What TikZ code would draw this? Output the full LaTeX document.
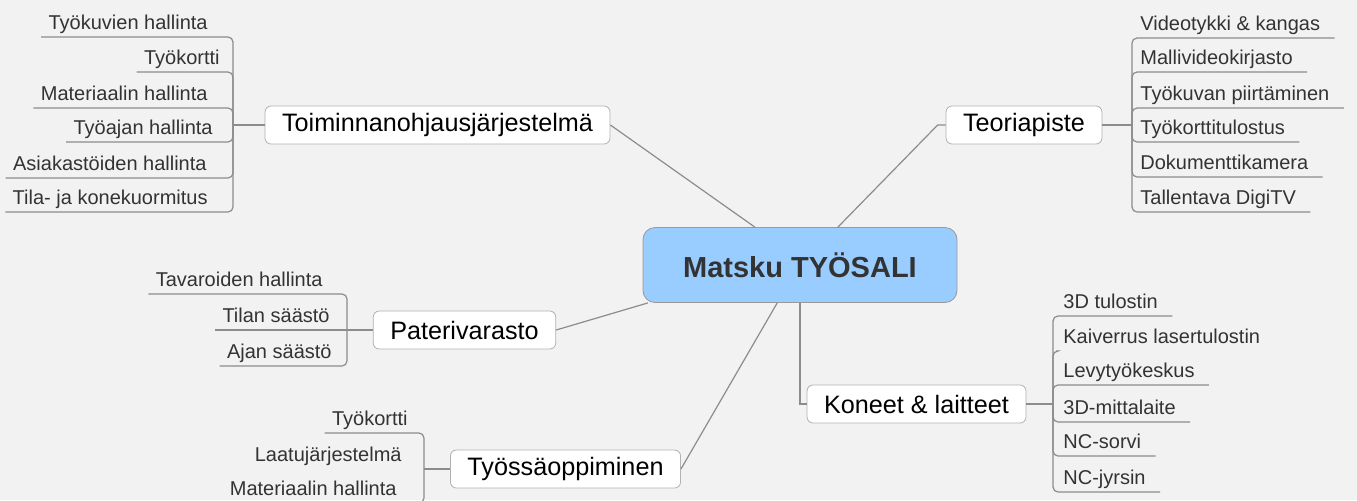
\documentclass[tikz,border=0pt]{standalone}
\usepackage{fontspec}
\setmainfont{Liberation Sans}
\usepackage{xcolor}
\usepackage{tikz}
\usetikzlibrary{positioning}

\definecolor{hubblue}{RGB}{153,204,255}
\definecolor{paper}{RGB}{242,242,242}
\definecolor{linegray}{RGB}{140,140,140}

\begin{document}
\begin{tikzpicture}[
  x=0.5pt, y=-0.5pt,
  hub/.style={
    rectangle,
    rounded corners=6pt,
    draw=gray!80,
    fill=hubblue,
    minimum width=157pt,
    minimum height=37.5pt,
    font=\fontsize{14.5}{17}\selectfont\bfseries,
    text=black!80
  },
  branch/.style={
    rectangle,
    rounded corners=3pt,
    draw=gray!60,
    fill=white,
    inner xsep=8.5pt,
    inner ysep=3pt,
    minimum height=19pt,
    font=\fontsize{12.6}{15}\selectfont
  },
  leaf/.style={
    inner xsep=3.5pt,
    inner ysep=1.5pt,
    text depth=2pt,
    font=\fontsize{10}{12}\selectfont,
    text=black!80
  },
  conn/.style={draw=linegray, line width=0.6pt},
  elbow/.style={conn, rounded corners=2.5pt}
]
\clip (0,0) rectangle (1357,500);
\fill[paper] (0,0) rectangle (1357,500);

% centre and main branches
\node[hub] (hub) at (800,265) {Matsku TYÖSALI};
\node[branch] (toim) at (437.5,125) {Toiminnanohjausjärjestelmä};
\node[branch] (teori) at (1024,125) {Teoriapiste};
\node[branch] (pater) at (464.5,330) {Paterivarasto};
\node[branch] (koneet) at (916.5,404) {Koneet \& laitteet};
\node[branch] (tyossa) at (565.5,469) {Työssäoppiminen};

\draw[conn] (toim.east) -- (hub.140);
\draw[conn] (teori.west) -- ++(-8,0) -- (hub.45);
\draw[conn] (pater.east) -- (hub.194);
\draw[conn] (hub.south) |- (koneet.west);
\draw[conn] (tyossa.east) -- (hub.239);

% Toiminnanohjausjarjestelma
\coordinate (tb) at (233,125);
\node[leaf, anchor=south east] (tk1) at (215,37) {Työkuvien hallinta};
\node[leaf, anchor=south east] (tk2) at (227,72) {Työkortti};
\node[leaf, anchor=south east] (tk3) at (215,108) {Materiaalin hallinta};
\node[leaf, anchor=south east] (tk4) at (220,142) {Työajan hallinta};
\node[leaf, anchor=south east] (tk5) at (214,178) {Asiakastöiden hallinta};
\node[leaf, anchor=south east] (tk6) at (215,212) {Tila- ja konekuormitus};
\draw[elbow] (tk1.south west) -- (tk1.south west -| tb) -- (tb);
\draw[elbow] (tk2.south west) -- (tk2.south west -| tb) -- (tb);
\draw[elbow] (tk3.south west) -- (tk3.south west -| tb) -- (tb);
\draw[elbow] (tk4.south west) -- (tk4.south west -| tb) -- (tb);
\draw[elbow] (tk5.south west) -- (tk5.south west -| tb) -- (tb);
\draw[elbow] (tk6.south west) -- (tk6.south west -| tb) -- (tb);
\draw[conn] (tb) -- (toim.west);

% Teoriapiste
\coordinate (eb) at (1132,125);
\node[leaf, anchor=south west] (t1) at (1133,38) {Videotykki \& kangas};
\node[leaf, anchor=south west] (t2) at (1133,72) {Mallivideokirjasto};
\node[leaf, anchor=south west] (t3) at (1133,108) {Työkuvan piirtäminen};
\node[leaf, anchor=south west] (t4) at (1133,142) {Työkorttitulostus};
\node[leaf, anchor=south west] (t5) at (1133,177) {Dokumenttikamera};
\node[leaf, anchor=south west] (t6) at (1133,212) {Tallentava DigiTV};
\draw[elbow] ([xshift=3.5pt]t1.south east) -- (t1.south west -| eb) -- (eb);
\draw[elbow] ([xshift=3.5pt]t2.south east) -- (t2.south west -| eb) -- (eb);
\draw[elbow] ([xshift=3.5pt]t3.south east) -- (t3.south west -| eb) -- (eb);
\draw[elbow] ([xshift=3.5pt]t4.south east) -- (t4.south west -| eb) -- (eb);
\draw[elbow] ([xshift=3.5pt]t5.south east) -- (t5.south west -| eb) -- (eb);
\draw[elbow] ([xshift=3.5pt]t6.south east) -- (t6.south west -| eb) -- (eb);
\draw[conn] (teori.east) -- (eb);

% Paterivarasto
\coordinate (pb) at (347,330);
\node[leaf, anchor=south east] (p1) at (330,294) {Tavaroiden hallinta};
\node[leaf, anchor=south east] (p2) at (337,330) {Tilan säästö};
\node[leaf, anchor=south east] (p3) at (339,366) {Ajan säästö};
\draw[elbow] (p1.south west) -- (p1.south west -| pb) -- (pb);
\draw[conn] (p2.south west) -- (pb);
\draw[elbow] (p3.south west) -- (p3.south west -| pb) -- (pb);
\draw[conn] (pb) -- (pater.west);

% Koneet & laitteet
\coordinate (kb) at (1053,404);
\node[leaf, anchor=south west] (k1) at (1056,316) {3D tulostin};
\node[leaf, anchor=south west] (k2) at (1056,351) {Kaiverrus lasertulostin};
\node[leaf, anchor=south west] (k3) at (1056,385) {Levytyökeskus};
\node[leaf, anchor=south west] (k4) at (1056,422) {3D-mittalaite};
\node[leaf, anchor=south west] (k5) at (1056,456) {NC-sorvi};
\node[leaf, anchor=south west] (k6) at (1056,492) {NC-jyrsin};
\draw[elbow] ([xshift=3.5pt]k1.south east) -- (k1.south west -| kb) -- (kb);
\draw[elbow] (k2.south west) -- (k2.south west -| kb) -- (kb);
\draw[elbow] ([xshift=3.5pt]k3.south east) -- (k3.south west -| kb) -- (kb);
\draw[elbow] ([xshift=3.5pt]k4.south east) -- (k4.south west -| kb) -- (kb);
\draw[elbow] ([xshift=3.5pt]k5.south east) -- (k5.south west -| kb) -- (kb);
\draw[elbow] ([xshift=3.5pt]k6.south east) -- (k6.south west -| kb) -- (kb);
\draw[conn] (kb) -- (koneet.east);

% Tyossaoppiminen
\coordinate (wb) at (424,469);
\node[leaf, anchor=south east] (w1) at (415,433) {Työkortti};
\node[leaf, anchor=south east] (w2) at (409,469) {Laatujärjestelmä};
\node[leaf, anchor=south east] (w3) at (404,503) {Materiaalin hallinta};
\draw[elbow] (w1.south west) -- (w1.south west -| wb) -- (wb);
\draw[elbow] (w3.south west) -- (w3.south west -| wb) -- (wb);
\draw[conn] (wb) -- (tyossa.west);
\end{tikzpicture}
\end{document}
